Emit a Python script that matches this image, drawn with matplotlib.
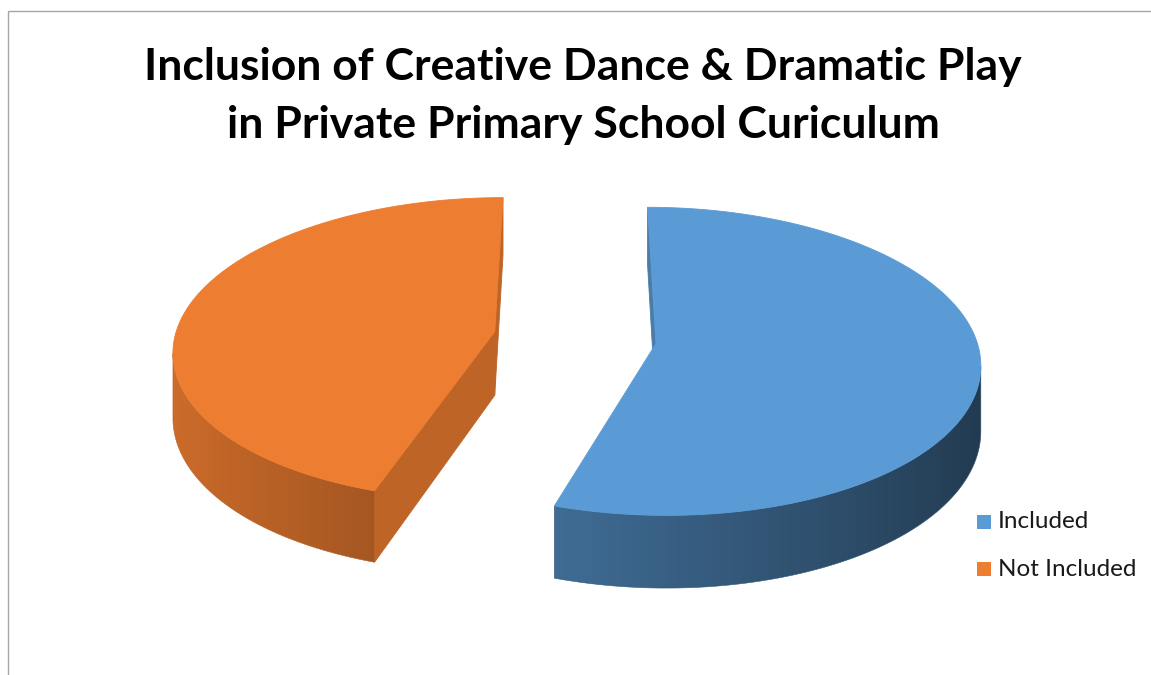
import numpy as np
import matplotlib
matplotlib.use("Agg")
import matplotlib.pyplot as plt
from matplotlib.patches import Polygon, Rectangle
from matplotlib.colors import to_rgb

title_lines = ["Inclusion of Creative Dance & Dramatic Play",
               "in Private Primary School Curiculum"]
labels = ["Included", "Not Included"]
shares = [55, 45]
colors = ["#5B9BD5", "#ED7D31"]

W, H = 1151, 675
CX, CY = 575, 337.5      # where the centre of the undisplaced pie lands
RX, RY = 320, 150.6      # radii of the top ellipse at mid depth
DEPTH = 64               # slab thickness in pixels
PERSP = 0.115            # nearer parts grow a little
EXPLODE = 0.255


def project(X, Y, Z):
    # X right, Y away from viewer, Z up (top face at 0, bottom at -1)
    s = 1.0 / (1.0 + PERSP * np.asarray(Y))
    return CX + s * RX * np.asarray(X), CY - s * (RY * np.asarray(Y) + DEPTH * np.asarray(Z))


def to_screen(pts):
    pts = np.asarray(pts, dtype=float)
    xs, ys = project(pts[:, 0], pts[:, 1], pts[:, 2])
    return np.column_stack([xs, ys])


def signed_area(p):
    x, y = p[:, 0], p[:, 1]
    return 0.5 * np.sum(x * np.roll(y, -1) - np.roll(x, -1) * y)


def shade(col, f):
    return np.clip(np.array(to_rgb(col)) * f, 0, 1)


def draw_face(ax, pts, col, cull=True):
    p = to_screen(pts)
    if cull and signed_area(p) >= 0:
        return
    ax.add_patch(Polygon(p, closed=True, facecolor=col, edgecolor=col, lw=0.6))


def wall_light(t):
    # light comes from the front left
    return 0.62 + 0.25 * (-np.sin(t))


fig = plt.figure(figsize=(W / 100, H / 100), dpi=100)
ax = fig.add_axes([0, 0, 1, 1])
ax.set_xlim(0, W)
ax.set_ylim(H, 0)
ax.axis("off")

# chart area border
ax.add_patch(Rectangle((8.5, 10.5), 1300, 800, fill=False, edgecolor="#A6A6A6", lw=1.0))

# slices run clockwise from twelve o'clock
total = float(sum(shares))
bounds = np.concatenate([[0], np.cumsum(shares)]) / total * 2 * np.pi
slices = []
for i in range(len(shares)):
    t0, t1 = bounds[i], bounds[i + 1]
    tm = 0.5 * (t0 + t1)
    ex, ey = EXPLODE * np.sin(tm), EXPLODE * np.cos(tm)
    slices.append((t0, t1, ex, ey, colors[i]))

# far slice first
for t0, t1, ex, ey, col in sorted(slices, key=lambda s: -s[3]):
    rim = lambda t, z: (ex + np.sin(t), ey + np.cos(t), z)
    c_top, c_bot = (ex, ey, 0.0), (ex, ey, -1.0)

    # cut faces
    draw_face(ax, [c_top, rim(t0, 0), rim(t0, -1), c_bot], shade(col, 0.8))
    draw_face(ax, [c_top, c_bot, rim(t1, -1), rim(t1, 0)], shade(col, 0.8))

    # curved outer wall: keep the part facing the viewer
    n = max(int((t1 - t0) / (2 * np.pi) * 720), 8)
    ts = np.linspace(t0, t1, n + 1)
    vis = []
    for a, b in zip(ts[:-1], ts[1:]):
        q = to_screen([rim(a, 0), rim(b, 0), rim(b, -1), rim(a, -1)])
        if signed_area(q) < 0:
            vis.append((a, b))
    if vis:
        ta = np.linspace(vis[0][0], vis[-1][1], 300)
        upper = to_screen([rim(t, 0) for t in ta])
        lower = to_screen([rim(t, -1) for t in ta[::-1]])
        outline = np.vstack([upper, lower])
        wall = Polygon(outline, closed=True, facecolor="none", edgecolor="none")
        ax.add_patch(wall)

        # horizontal shading gradient across the wall
        order = np.argsort(upper[:, 0])
        x0, x1 = outline[:, 0].min(), outline[:, 0].max()
        y0, y1 = outline[:, 1].min(), outline[:, 1].max()
        gx = np.linspace(x0, x1, 400)
        gf = np.interp(gx, upper[order, 0], wall_light(ta[order]))
        img = np.clip(np.array(to_rgb(col))[None, None, :] * gf[None, :, None], 0, 1)
        im = ax.imshow(img, extent=(x0, x1, y1, y0), aspect="auto",
                       interpolation="bilinear", zorder=1)
        im.set_clip_path(wall)
        # thin outline in the mean wall colour hides the clip edge
        ax.add_patch(Polygon(outline, closed=True, facecolor="none",
                             edgecolor=shade(col, gf.mean()), lw=0.4, zorder=1))

    # top face
    top = [c_top] + [rim(t, 0) for t in ts[::-1]]
    ax.add_patch(Polygon(to_screen(top), closed=True, facecolor=col,
                         edgecolor=col, lw=0.6, zorder=2))

ax.set_xlim(0, W)
ax.set_ylim(H, 0)

# title
for k, line in enumerate(title_lines):
    ax.text(583, 80 + 58 * k, line, ha="center", va="baseline",
            fontsize=32, fontweight="bold", family="Lato", color="black")

# legend
for i, (lab, col) in enumerate(zip(labels, colors)):
    y = 522 + 47 * i
    ax.add_patch(Rectangle((977, y - 7), 14, 14, facecolor=col, lw=0))
    ax.text(998, y, lab, ha="left", va="center", fontsize=17.5,
            family="Lato", color="#1a1a1a")

fig.savefig("out.png", dpi=100)
